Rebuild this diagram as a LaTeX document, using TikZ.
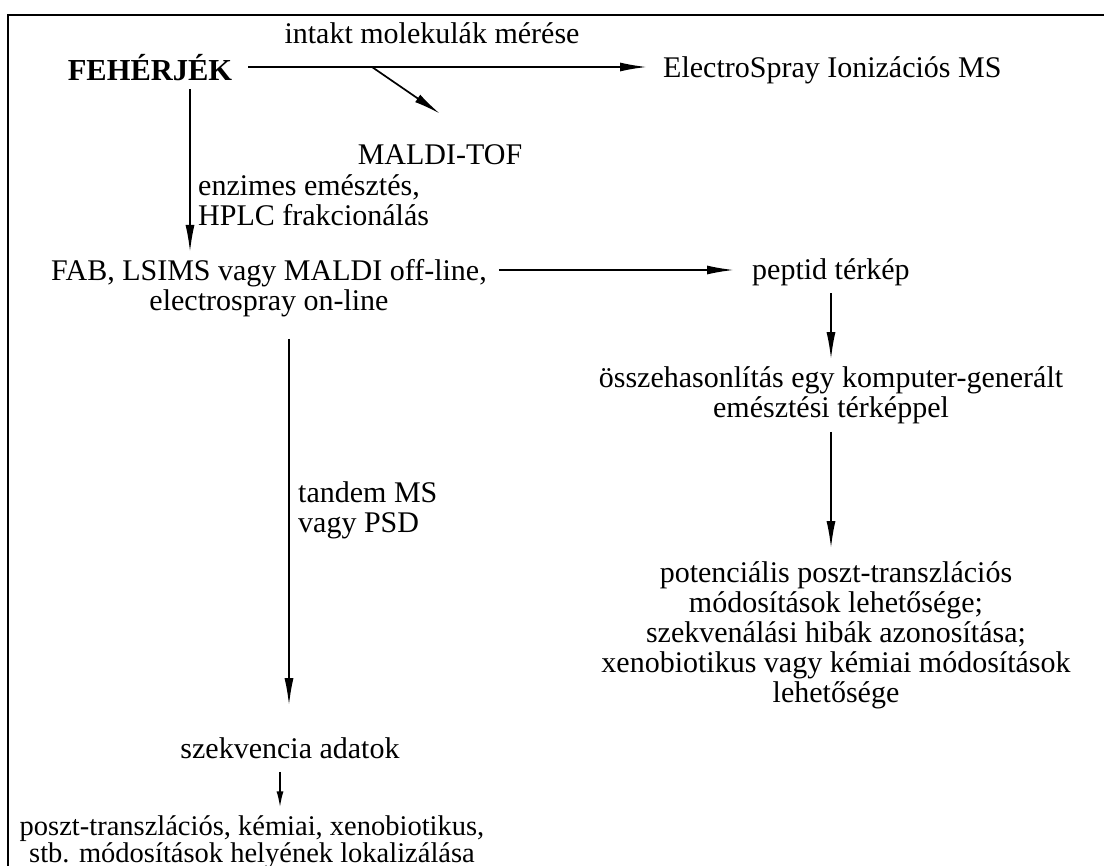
\documentclass[tikz,border=0pt]{standalone}
\usepackage{fontspec}
\setmainfont{Liberation Serif}
\usetikzlibrary{arrows.meta,calc}
\begin{document}
\begin{tikzpicture}[x=1pt,y=-1pt,
  txt/.style={inner sep=0pt,font=\fontsize{30}{30}\selectfont,align=center},
  arr/.style={line width=1.7pt,-{Latex[length=27pt,width=9pt]}},
  frame/.style={line width=1.6pt}]
\useasboundingbox (0,0) rectangle (1104,866);
\fill[white] (0,0) rectangle (1104,866);
% frame (only top and left sides visible)
\coordinate (fl) at (8,866);
\coordinate (ftl) at (8,15);
\coordinate (ftr) at (1104,15);
\draw[frame] (fl) -- (ftl) -- (ftr);
% nodes
\node[txt,font=\fontsize{30.5}{30}\selectfont\bfseries] (feh) at (150,68) {FEHÉRJÉK};
\node[txt] (intakt) at (432,33) {intakt molekulák mérése};
\node[txt,anchor=west] (esi) at (663,70) {ElectroSpray Ionizációs MS};
\node[txt] (maldi) at (440,155) {MALDI-TOF};
\node[txt,anchor=west,align=left] (enz) at (198,200) {enzimes emésztés,\\HPLC frakcionálás};
\node[txt] (fab) at (269,288) {FAB, LSIMS vagy MALDI off-line,\\electrospray on-line};
\node[txt,anchor=west] (pep) at (752,272) {peptid térkép};
\node[txt] (ossz) at (831,395) {összehasonlítás egy komputer-generált\\emésztési térképpel};
\node[txt] (pot) at (836,635) {potenciális poszt-transzlációs\\módosítások lehetősége;\\szekvenálási hibák azonosítása;\\xenobiotikus vagy kémiai módosítások\\lehetősége};
\node[txt,anchor=west,align=left] (tan) at (298,510) {tandem MS\\vagy PSD};
\node[txt] (szek) at (290,748) {szekvencia adatok};
\node[txt,font=\fontsize{28.5}{24}\selectfont] (poszt) at (252,842) {poszt-transzlációs, kémiai, xenobiotikus,\\stb. módosítások helyének lokalizálása};
% connectors
\draw[arr] ($(feh.east)+(16,-1)$) -- ($(esi.west)+(-16,-3)$);
\coordinate (br) at (372,67);
\draw[arr] (br) -- ($(maldi.north)+(0,-31)$);
\draw[arr] ($(feh.south)+(40,8)$) -- ($(fab.north)+(-79,-7)$);
\draw[arr] ($(fab.east)+(12,-18)$) -- ($(pep.west)+(-18,-2)$);
\draw[arr] ($(ossz.north)+(0,-73)$) -- ($(ossz.north)+(0,-7)$);
\draw[arr] ($(ossz.south)+(0,8)$) -- ($(pot.north)+(-5,-13)$);
\draw[arr] ($(fab.south)+(20,22)$) -- ($(szek.north)+(-1,-32)$);
\draw[line width=1.7pt,-{Latex[length=16pt,width=7pt]}] ($(szek.south)+(-10,13)$) -- ($(poszt.north)+(28,-8)$);
\end{tikzpicture}
\end{document}
